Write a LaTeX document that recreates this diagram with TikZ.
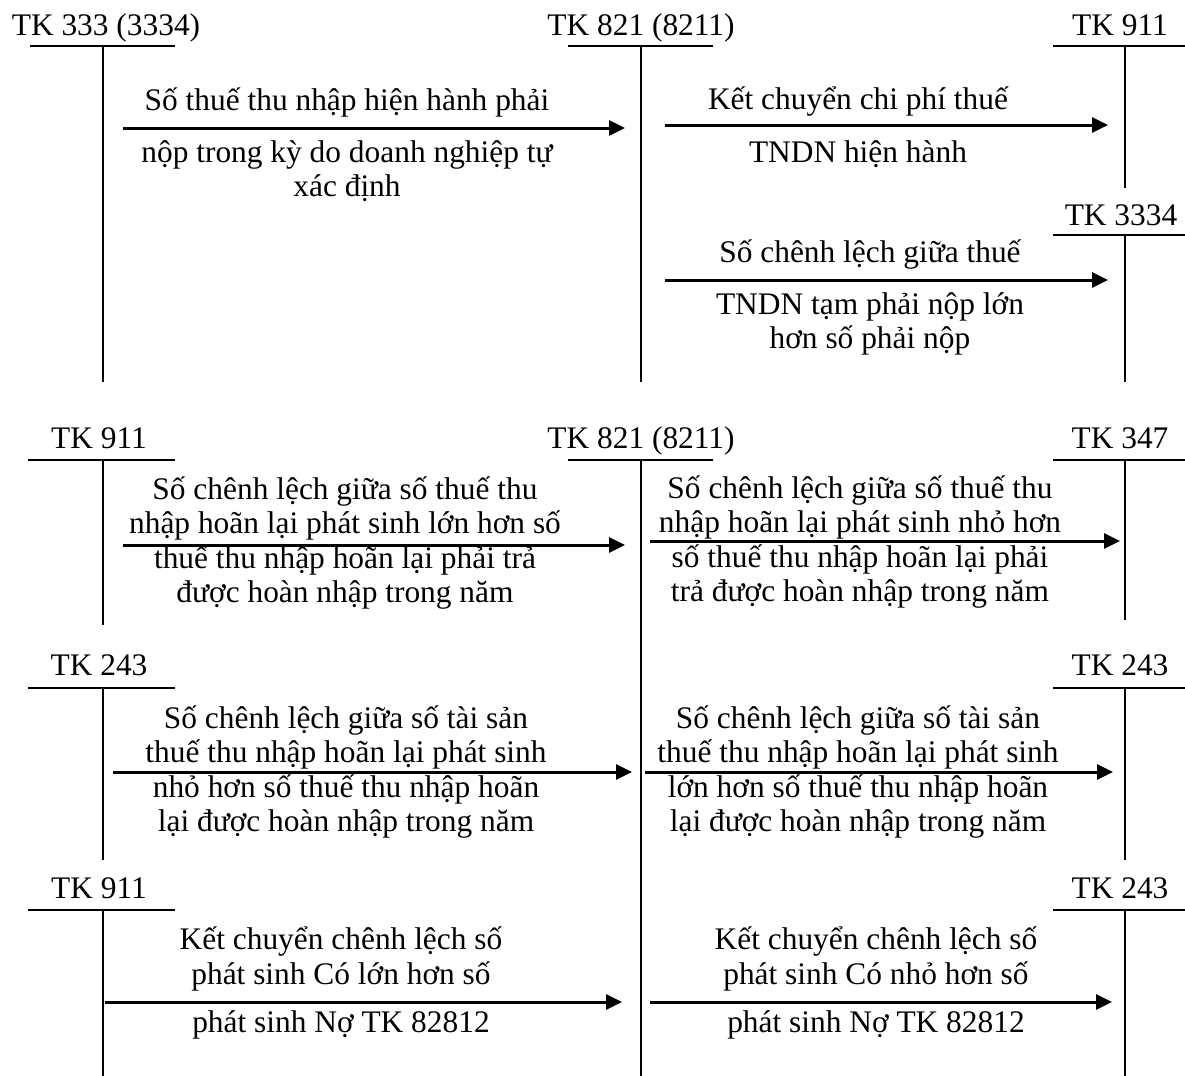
\documentclass[tikz,border=0pt]{standalone}
\usepackage{fontspec}
\setmainfont{Liberation Serif}
\usetikzlibrary{arrows.meta, positioning}
\tikzset{
  tkName/.style={anchor=base, inner sep=0pt, font=\fontsize{15.7}{17.5}\selectfont},
  tkRule/.style={line width=1pt},
  arrowP/.style={-{Triangle[length=8pt, width=7.5pt]}, line width=1.5pt},
  noteText/.style={align=center, inner sep=0pt, font=\fontsize{15.7}{17.2}\selectfont},
}
\begin{document}
\begin{tikzpicture}[x=0.5pt, y=-0.5pt]
  \useasboundingbox (0,0) rectangle (1185,1076);

  % --- hien hanh: T accounts
  \node[tkName] (k333) at (106,35) {TK 333 (3334)};
  \draw[tkRule] (30,46) -- (175,46) (103,46) -- (103,382);
  \node[tkName] (k821a) at (641,35) {TK 821 (8211)};
  \draw[tkRule] (568,46) -- (713,46) (641,46) -- (641,382);
  \node[tkName] (k911a) at (1120,35) {TK 911};
  \draw[tkRule] (1053,46) -- (1185,46) (1125,46) -- (1125,188);
  \node[tkName] (k3334) at (1121,225) {TK 3334};
  \draw[tkRule] (1053,235) -- (1185,235) (1125,235) -- (1125,382);

  \coordinate (a1) at (123,128); \coordinate (b1) at (625,128);
  \coordinate (a2) at (665,125); \coordinate (b2) at (1108,125);
  \coordinate (a3) at (665,280); \coordinate (b3) at (1108,280);
  \draw[arrowP] (a1) -- (b1);
  \draw[arrowP] (a2) -- (b2);
  \draw[arrowP] (a3) -- (b3);
  \node[noteText] (t1a) at (347,102) {Số thuế thu nhập hiện hành phải};
  \node[noteText] (t1b) at (347,171) {nộp trong kỳ do doanh nghiệp tự\\xác định};
  \node[noteText] (t2a) at (858,102) {Kết chuyển chi phí thuế};
  \node[noteText] (t2b) at (858,154) {TNDN hiện hành};
  \node[noteText] (t3a) at (870,255) {Số chênh lệch giữa thuế};
  \node[noteText] (t3b) at (870,324) {TNDN tạm phải nộp lớn\\hơn số phải nộp};

  % --- hoan lai: T accounts
  \node[tkName] (k911b) at (99,448) {TK 911};
  \draw[tkRule] (28,460) -- (175,460) (103,460) -- (103,625);
  \node[tkName] (k821b) at (641,448) {TK 821 (8211)};
  \draw[tkRule] (568,460) -- (713,460) (641,460) -- (641,1076);
  \node[tkName] (k347) at (1120,448) {TK 347};
  \draw[tkRule] (1053,460) -- (1185,460) (1125,460) -- (1125,620);
  \node[tkName] (k243a) at (99,675) {TK 243};
  \draw[tkRule] (28,688) -- (175,688) (103,688) -- (103,860);
  \node[tkName] (k243b) at (1120,675) {TK 243};
  \draw[tkRule] (1053,688) -- (1185,688) (1125,688) -- (1125,860);
  \node[tkName] (k911c) at (99,898) {TK 911};
  \draw[tkRule] (28,910) -- (175,910) (103,910) -- (103,1076);
  \node[tkName] (k243c) at (1120,898) {TK 243};
  \draw[tkRule] (1053,910) -- (1185,910) (1125,910) -- (1125,1076);

  \coordinate (a4) at (123,545); \coordinate (b4) at (625,545);
  \coordinate (a5) at (650,541); \coordinate (b5) at (1120,541);
  \coordinate (a6) at (113,772); \coordinate (b6) at (632,772);
  \coordinate (a7) at (645,772); \coordinate (b7) at (1113,772);
  \coordinate (a8) at (105,1002); \coordinate (b8) at (622,1002);
  \coordinate (a9) at (650,1002); \coordinate (b9) at (1112,1002);
  \draw[arrowP] (a4) -- (b4);
  \draw[arrowP] (a5) -- (b5);
  \draw[arrowP] (a6) -- (b6);
  \draw[arrowP] (a7) -- (b7);
  \draw[arrowP] (a8) -- (b8);
  \draw[arrowP] (a9) -- (b9);

  \node[noteText] (t4) at (345,543) {Số chênh lệch giữa số thuế thu\\nhập hoãn lại phát sinh lớn hơn số\\thuế thu nhập hoãn lại phải trả\\được hoàn nhập trong năm};
  \node[noteText] (t5) at (860,542) {Số chênh lệch giữa số thuế thu\\nhập hoãn lại phát sinh nhỏ hơn\\số thuế thu nhập hoãn lại phải\\trả được hoàn nhập trong năm};
  \node[noteText] (t6) at (346,772) {Số chênh lệch giữa số tài sản\\thuế thu nhập hoãn lại phát sinh\\nhỏ hơn số thuế thu nhập hoãn\\lại được hoàn nhập trong năm};
  \node[noteText] (t7) at (858,772) {Số chênh lệch giữa số tài sản\\thuế thu nhập hoãn lại phát sinh\\lớn hơn số thuế thu nhập hoãn\\lại được hoàn nhập trong năm};
  \node[noteText] (t8a) at (341,959) {Kết chuyển chênh lệch số\\phát sinh Có lớn hơn số};
  \node[noteText] (t8b) at (341,1025) {phát sinh Nợ TK 82812};
  \node[noteText] (t9a) at (876,959) {Kết chuyển chênh lệch số\\phát sinh Có nhỏ hơn số};
  \node[noteText] (t9b) at (876,1025) {phát sinh Nợ TK 82812};
\end{tikzpicture}
\end{document}
